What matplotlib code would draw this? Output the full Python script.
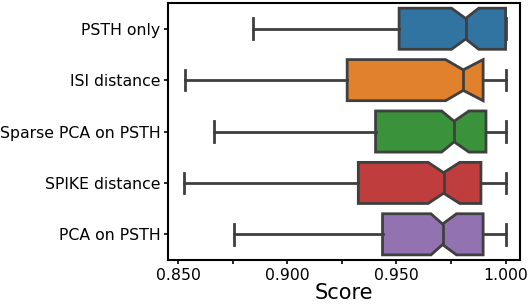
import numpy as np
import matplotlib
matplotlib.use("Agg")
import matplotlib.pyplot as plt
from matplotlib.ticker import MultipleLocator, FormatStrFormatter

# methods, top to bottom
methods = ["PSTH only", "ISI distance", "Sparse PCA on PSTH", "SPIKE distance", "PCA on PSTH"]
whislo = [0.8841, 0.8531, 0.8665, 0.8527, 0.8757]
q1 = [0.9512, 0.9274, 0.9404, 0.9325, 0.9436]
med = [0.9817, 0.9806, 0.9764, 0.9716, 0.9711]
q3 = [1.0, 0.9897, 0.9910, 0.9887, 0.9897]
whishi = [1.0, 1.0, 1.0, 1.0, 1.0]
cilo = [0.9752, 0.9725, 0.9707, 0.9645, 0.9658]
cihi = [0.9877, 0.9897, 0.9832, 0.9790, 0.9775]

colors = ["#3274a1", "#e1812c", "#3a923a", "#c03d3e", "#9372b2"]
gray = "#3f3f3f"

stats = []
for i in range(len(methods)):
    stats.append(dict(med=med[i], q1=q1[i], q3=q3[i], whislo=whislo[i], whishi=whishi[i],
                      cilo=cilo[i], cihi=cihi[i], fliers=[], label=methods[i]))

fig = plt.figure(figsize=(5.29, 3.05), dpi=100)
ax = fig.add_axes([0.3176, 0.1475, 0.6654, 0.8425])

lw = 2.0
bp = ax.bxp(stats, positions=range(len(methods)), widths=0.8, orientation="horizontal",
            shownotches=True, patch_artist=True, showfliers=False,
            boxprops=dict(edgecolor=gray, linewidth=lw),
            whiskerprops=dict(color=gray, linewidth=lw),
            capprops=dict(color=gray, linewidth=lw),
            medianprops=dict(color=gray, linewidth=lw))
for patch, c in zip(bp["boxes"], colors):
    patch.set_facecolor(c)

ax.set_ylim(len(methods) - 0.5, -0.5)
ax.set_xlim(0.8453, 1.0066)
ax.set_yticks(range(len(methods)))
ax.set_yticklabels(methods, fontsize=11.3)
ax.xaxis.set_major_locator(MultipleLocator(0.05))
ax.xaxis.set_minor_locator(MultipleLocator(0.025))
ax.xaxis.set_major_formatter(FormatStrFormatter("%.3f"))
ax.tick_params(axis="x", labelsize=11.3)
ax.tick_params(which="both", length=3, width=1.2, pad=2.5)
ax.set_xlabel("Score", fontsize=15, labelpad=0)
for s in ax.spines.values():
    s.set_linewidth(1.5)

fig.savefig("out.png", dpi=100)
